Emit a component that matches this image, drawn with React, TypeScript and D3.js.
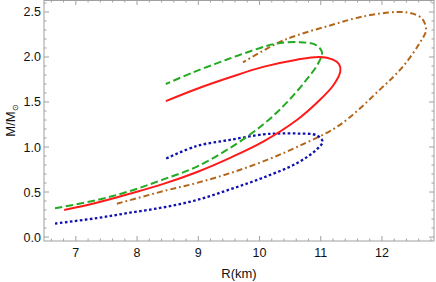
import React from "react";
import * as d3 from "d3";

const redR = [6.81, 7.34, 7.88, 8.43, 8.97, 9.52, 10.06, 10.61, 10.95, 11.2, 11.32, 11.3, 11.2, 10.98, 10.61, 10.06, 9.52, 8.97, 8.47];
const redM = [0.30, 0.38, 0.48, 0.59, 0.72, 0.88, 1.06, 1.30, 1.50, 1.68, 1.84, 1.92, 1.97, 2.0, 1.97, 1.89, 1.775, 1.645, 1.51];

const greenR = [6.66, 7.34, 7.88, 8.43, 8.97, 9.52, 10.06, 10.44, 10.77, 10.96, 11.02, 10.93, 10.66, 10.28, 10.01, 9.46, 8.92, 8.47];
const greenM = [0.32, 0.41, 0.51, 0.64, 0.78, 0.99, 1.25, 1.49, 1.75, 1.93, 2.05, 2.13, 2.165, 2.15, 2.10, 1.97, 1.83, 1.70];

const blueR = [6.66, 7.34, 7.88, 8.43, 8.97, 9.52, 10.06, 10.61, 10.93, 11.03, 10.93, 10.61, 10.3, 10.06, 9.52, 8.97, 8.47];
const blueM = [0.15, 0.21, 0.27, 0.33, 0.41, 0.53, 0.66, 0.82, 0.97, 1.06, 1.13, 1.15, 1.15, 1.14, 1.08, 1.01, 0.87];

const brownR = [7.67, 8.43, 8.97, 9.52, 10.06, 10.61, 11.3, 11.97, 12.35, 12.62, 12.72, 12.65, 12.45, 12.24, 11.69, 11.15, 10.61, 10.28, 9.73];
const brownM = [0.37, 0.51, 0.60, 0.71, 0.84, 1.0, 1.24, 1.64, 1.90, 2.16, 2.30, 2.43, 2.49, 2.50, 2.45, 2.35, 2.24, 2.15, 1.94];

const xTicks = [7, 8, 9, 10, 11, 12];
const yTicks = [0, 0.5, 1.0, 1.5, 2.0, 2.5];
const yTickLabels = ["0.0", "0.5", "1.0", "1.5", "2.0", "2.5"];

const W = 436, H = 282;
const L = 44, R = 434, T = 0, B = 241;

export default function App() {
  const x = d3.scaleLinear().domain([6.48, 12.85]).range([L, R]);
  const y = d3.scaleLinear().domain([-0.044, 2.633]).range([B, T]);
  const line = d3
    .line<[number, number]>()
    .x((d) => x(d[0]))
    .y((d) => y(d[1]))
    .curve(d3.curveCatmullRom.alpha(0.5));
  const zip = (a: number[], b: number[]) => a.map((v, i) => [v, b[i]] as [number, number]);

  const xMinor = d3.range(6.6, 12.85, 0.2).filter((v) => Math.abs(v - Math.round(v)) > 0.01);
  const yMinor = d3.range(0, 2.63, 0.1).filter((v) => Math.abs(v * 2 - Math.round(v * 2)) > 0.01);
  const frame = "#a0a0a0";
  const font = "Liberation Sans, Arial, sans-serif";

  const series = [
    { d: zip(brownR, brownM), color: "#b3661a", dash: "6,3,1.8,3", w: 2 },
    { d: zip(blueR, blueM), color: "#1010b0", dash: "2.6,2.4", w: 2.3 },
    { d: zip(greenR, greenM), color: "#22aa22", dash: "7.5,3.5", w: 2 },
    { d: zip(redR, redM), color: "#ff1a1a", dash: undefined as string | undefined, w: 2 },
  ];

  return (
    <div style={{ position: "fixed", left: 0, top: 0 }}>
      <svg width={W} height={H} style={{ display: "block", background: "#fff" }}>
        <g>
          {series.map((s, i) => (
            <path
              key={i}
              d={line(s.d) || ""}
              fill="none"
              stroke={s.color}
              strokeWidth={s.w}
              strokeDasharray={s.dash}
            />
          ))}
        </g>
        <g stroke={frame} strokeWidth={1} fill="none">
          <rect x={L} y={T + 0.5} width={R - L} height={B - T - 0.5} />
          {xTicks.map((t) => (
            <g key={"xm" + t}>
              <line x1={x(t)} x2={x(t)} y1={B} y2={B - 5} />
              <line x1={x(t)} x2={x(t)} y1={T} y2={T + 5} />
            </g>
          ))}
          {xMinor.map((t, i) => (
            <g key={"xn" + i}>
              <line x1={x(t)} x2={x(t)} y1={B} y2={B - 2.5} />
              <line x1={x(t)} x2={x(t)} y1={T} y2={T + 2.5} />
            </g>
          ))}
          {yTicks.map((t) => (
            <g key={"ym" + t}>
              <line x1={L} x2={L + 5} y1={y(t)} y2={y(t)} />
              <line x1={R} x2={R - 5} y1={y(t)} y2={y(t)} />
            </g>
          ))}
          {yMinor.map((t, i) => (
            <g key={"yn" + i}>
              <line x1={L} x2={L + 2.5} y1={y(t)} y2={y(t)} />
              <line x1={R} x2={R - 2.5} y1={y(t)} y2={y(t)} />
            </g>
          ))}
        </g>
        <g fontFamily={font} fontSize={12.5} fill="#111">
          {xTicks.map((t) => (
            <text key={"xl" + t} x={x(t)} y={256.5} textAnchor="middle">
              {String(t)}
            </text>
          ))}
          {yTicks.map((t, i) => (
            <text key={"yl" + t} x={41} y={y(t) + 4.5} textAnchor="end">
              {yTickLabels[i]}
            </text>
          ))}
          <text x={(L + R) / 2} y={278} textAnchor="middle" fontSize={13}>
            R(km)
          </text>
          <text transform={`translate(14.5, ${(T + B) / 2}) rotate(-90)`} textAnchor="middle" fontSize={13}>
            M/M
            <tspan fontSize={8} dy={3.5}>⊙</tspan>
          </text>
        </g>
      </svg>
    </div>
  );
}
